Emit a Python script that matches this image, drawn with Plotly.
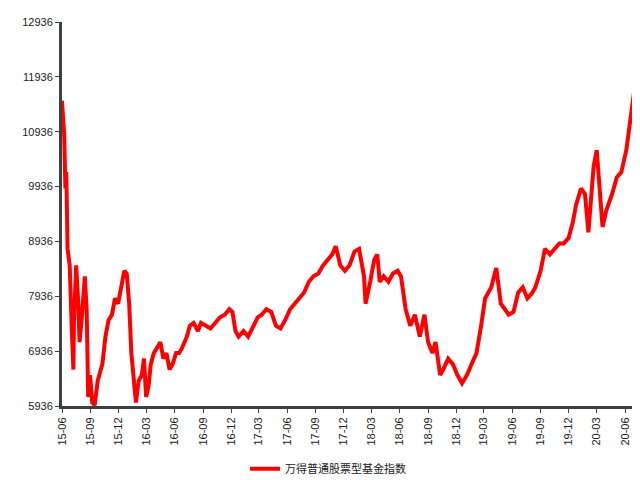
import plotly.graph_objects as go

dates = ["2015-06-01","2015-06-08","2015-06-12","2015-06-15","2015-06-19","2015-06-26","2015-07-03","2015-07-08","2015-07-10","2015-07-17","2015-07-24","2015-07-28","2015-08-05","2015-08-14","2015-08-20","2015-08-25","2015-08-31","2015-09-07","2015-09-15","2015-09-25","2015-10-10","2015-10-20","2015-10-30","2015-11-10","2015-11-20","2015-11-30","2015-12-10","2015-12-20","2015-12-28",
"2016-01-05","2016-01-12","2016-01-20","2016-01-27","2016-02-05","2016-02-15","2016-02-22","2016-02-29","2016-03-08","2016-03-15","2016-03-25","2016-04-05","2016-04-15","2016-04-25","2016-05-05","2016-05-15","2016-05-25","2016-06-05","2016-06-15","2016-06-25","2016-07-10","2016-07-20","2016-08-01","2016-08-15","2016-08-25","2016-09-10","2016-09-25","2016-10-10","2016-10-25","2016-11-10","2016-11-25","2016-12-05","2016-12-15","2016-12-25",
"2017-01-10","2017-01-25","2017-02-10","2017-02-25","2017-03-10","2017-03-25","2017-04-10","2017-04-25","2017-05-10","2017-05-25","2017-06-10","2017-06-25","2017-07-10","2017-07-25","2017-08-10","2017-08-25","2017-09-10","2017-09-25","2017-10-10","2017-10-25","2017-11-05","2017-11-20","2017-12-05","2017-12-20",
"2018-01-05","2018-01-20","2018-02-05","2018-02-10","2018-02-25","2018-03-10","2018-03-20","2018-03-28","2018-04-10","2018-04-25","2018-05-10","2018-05-25","2018-06-05","2018-06-20","2018-07-05","2018-07-20","2018-08-05","2018-08-20","2018-09-01","2018-09-15","2018-09-25","2018-10-10","2018-10-20","2018-11-05","2018-11-20","2018-12-05","2018-12-20",
"2019-01-05","2019-01-20","2019-02-05","2019-02-20","2019-03-05","2019-03-15","2019-03-25","2019-04-10","2019-04-25","2019-05-08","2019-05-20","2019-06-05","2019-06-20","2019-07-05","2019-07-20","2019-08-05","2019-08-15","2019-09-01","2019-09-15","2019-10-01","2019-10-15","2019-11-01","2019-11-15","2019-12-01","2019-12-15","2019-12-25",
"2020-01-10","2020-01-23","2020-02-03","2020-02-20","2020-03-01","2020-03-10","2020-03-20","2020-04-01","2020-04-20","2020-05-05","2020-05-20","2020-06-05","2020-06-15","2020-06-30"]
values = [11500,10900,9900,10200,8800,8500,7300,6600,7500,8500,7800,7100,7600,8300,7700,6100,6500,6000,5950,6400,6700,7200,7500,7600,7900,7800,8100,8400,8350,
7800,6900,6500,6000,6400,6500,6800,6100,6300,6700,6900,7000,7100,6800,6900,6600,6700,6900,6900,7000,7200,7400,7450,7300,7450,7400,7350,7450,7550,7600,7700,7650,7300,7200,
7300,7200,7400,7550,7600,7700,7650,7400,7350,7500,7700,7800,7900,8000,8200,8300,8350,8500,8600,8700,8850,8500,8400,8500,
8750,8800,8300,7800,8200,8600,8700,8200,8300,8200,8350,8400,8300,7700,7400,7600,7200,7600,7100,6900,7100,6500,6600,6800,6700,6500,6350,
6500,6700,6900,7400,7900,8000,8100,8450,7800,7700,7600,7650,8000,8100,7900,8000,8100,8400,8800,8700,8800,8900,8900,9000,9300,9600,
9900,9800,9100,10300,10600,9900,9200,9500,9800,10100,10200,10600,11000,11650]
series_name = "万得普通股票型基金指数"

fig = go.Figure(go.Scatter(x=dates, y=values, mode="lines", name=series_name,
                           line=dict(color="#ff0000", width=4)))
fig.update_layout(
    width=640, height=480, plot_bgcolor="white", paper_bgcolor="white",
    margin=dict(l=54, r=14, t=14, b=82, autoexpand=False),
    font=dict(family="Liberation Sans, DejaVu Sans", size=11, color="#222"),
    showlegend=True,
    legend=dict(orientation="h", x=0.5, xanchor="center", xref="container",
                y=0.04, yanchor="middle", yref="container",
                font=dict(family="Noto Sans CJK SC", size=11)),
)
fig.update_xaxes(type="date", range=["2015-06-01","2020-06-30"], dtick="M3", tick0="2015-06-01",
                 tickformat="%y-%m", tickangle=-90, showgrid=False, showline=True,
                 linecolor="#404040", linewidth=3, ticks="outside", ticklen=4, tickcolor="#404040")
fig.update_yaxes(range=[5936,12936], dtick=1000, tick0=5936, tickformat="d", showgrid=False, showline=True,
                 linecolor="#404040", linewidth=3, ticks="outside", ticklen=4, tickcolor="#404040",
                 zeroline=False)
fig.write_html("out.html")
